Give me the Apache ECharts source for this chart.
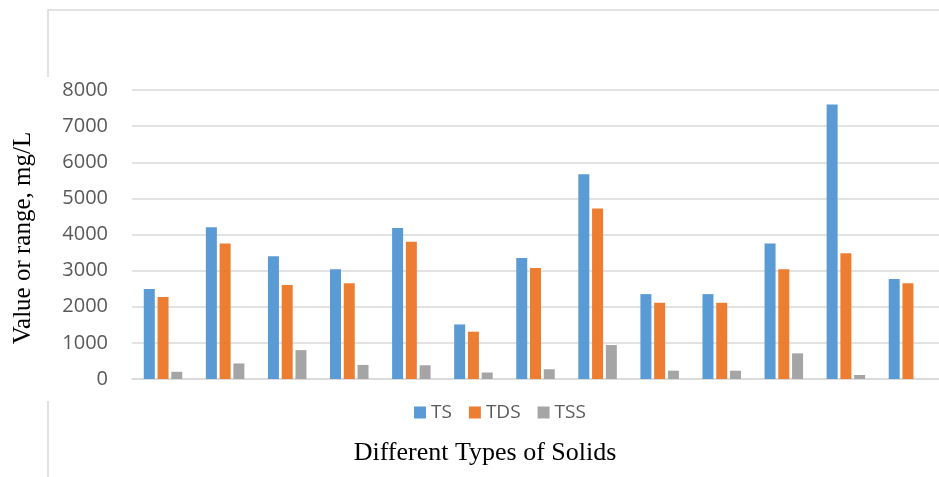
<!DOCTYPE html>
<html>
<head>
<meta charset="utf-8">
<script src="https://cdn.jsdelivr.net/npm/echarts@6/dist/echarts.min.js"></script>
<style>
  html, body { margin: 0; padding: 0; background: #ffffff; }
  #chart { width: 939px; height: 477px; }
</style>
</head>
<body>
<div id="chart"></div>
<script>
// Sample groups (13 samples) and solids measurements in mg/L
const categories = ['1', '2', '3', '4', '5', '6', '7', '8', '9', '10', '11', '12', '13'];
const seriesNames = ['TS', 'TDS', 'TSS'];
const tsValues  = [2490, 4200, 3400, 3040, 4180, 1510, 3350, 5670, 2350, 2350, 3750, 7600, 2770];
const tdsValues = [2270, 3750, 2600, 2650, 3800, 1310, 3070, 4720, 2110, 2110, 3040, 3480, 2650];
const tssValues = [200, 430, 800, 390, 380, 180, 270, 940, 230, 230, 710, 110, 0];
const yTicks = { min: 0, max: 8000, interval: 1000 };
const colors = ['#5b9bd5', '#ed7d31', '#a5a5a5'];

const chart = echarts.init(document.getElementById('chart'), null, { renderer: 'canvas' });

const frameLine = { stroke: '#d9d9d9', lineWidth: 1.5 };
const tickFont = { fontFamily: 'Open Sans', fontSize: 20, color: '#595959' };
const legendFont = { fontFamily: 'Open Sans', fontSize: 19, color: '#595959' };

function barSeries(name, values, idx) {
  return {
    name: name,
    type: 'bar',
    data: values,
    barWidth: 11,
    barGap: '25%',
    itemStyle: { color: colors[idx] },
    emphasis: { disabled: true }
  };
}

chart.setOption({
  animation: false,
  color: colors,
  grid: { left: 132, right: 0, top: 90, bottom: 98, containLabel: false },
  legend: {
    data: seriesNames,
    left: 409,
    top: 398,
    icon: 'rect',
    itemWidth: 12,
    itemHeight: 12,
    itemGap: 17,
    textStyle: legendFont
  },
  xAxis: {
    type: 'category',
    data: categories,
    axisLabel: { show: false },
    axisTick: { show: false },
    axisLine: { show: true, lineStyle: { color: '#d9d9d9', width: 1.5 } }
  },
  yAxis: {
    type: 'value',
    min: yTicks.min,
    max: yTicks.max,
    interval: yTicks.interval,
    axisLine: { show: false },
    axisTick: { show: false },
    axisLabel: Object.assign({ margin: 24, formatter: function (v) { return String(v); } }, tickFont),
    splitLine: { lineStyle: { color: '#d9d9d9', width: 1.5 } }
  },
  graphic: [
    { type: 'polyline', shape: { points: [[48, 77], [48, 10], [939, 10]] }, style: frameLine, silent: true },
    { type: 'line', shape: { x1: 48, y1: 401, x2: 48, y2: 477 }, style: frameLine, silent: true },
    {
      type: 'text',
      x: 23, y: 238,
      rotation: Math.PI / 2,
      style: {
        text: 'Value or range, mg/L',
        font: '25px "Liberation Serif"',
        fill: '#000000',
        align: 'center',
        verticalAlign: 'middle'
      },
      silent: true
    },
    {
      type: 'text',
      x: 485, y: 453,
      style: {
        text: 'Different Types of Solids',
        font: '26px "Liberation Serif"',
        fill: '#000000',
        align: 'center',
        verticalAlign: 'middle'
      },
      silent: true
    }
  ],
  series: [
    barSeries(seriesNames[0], tsValues, 0),
    barSeries(seriesNames[1], tdsValues, 1),
    barSeries(seriesNames[2], tssValues, 2)
  ]
});
</script>
</body>
</html>
